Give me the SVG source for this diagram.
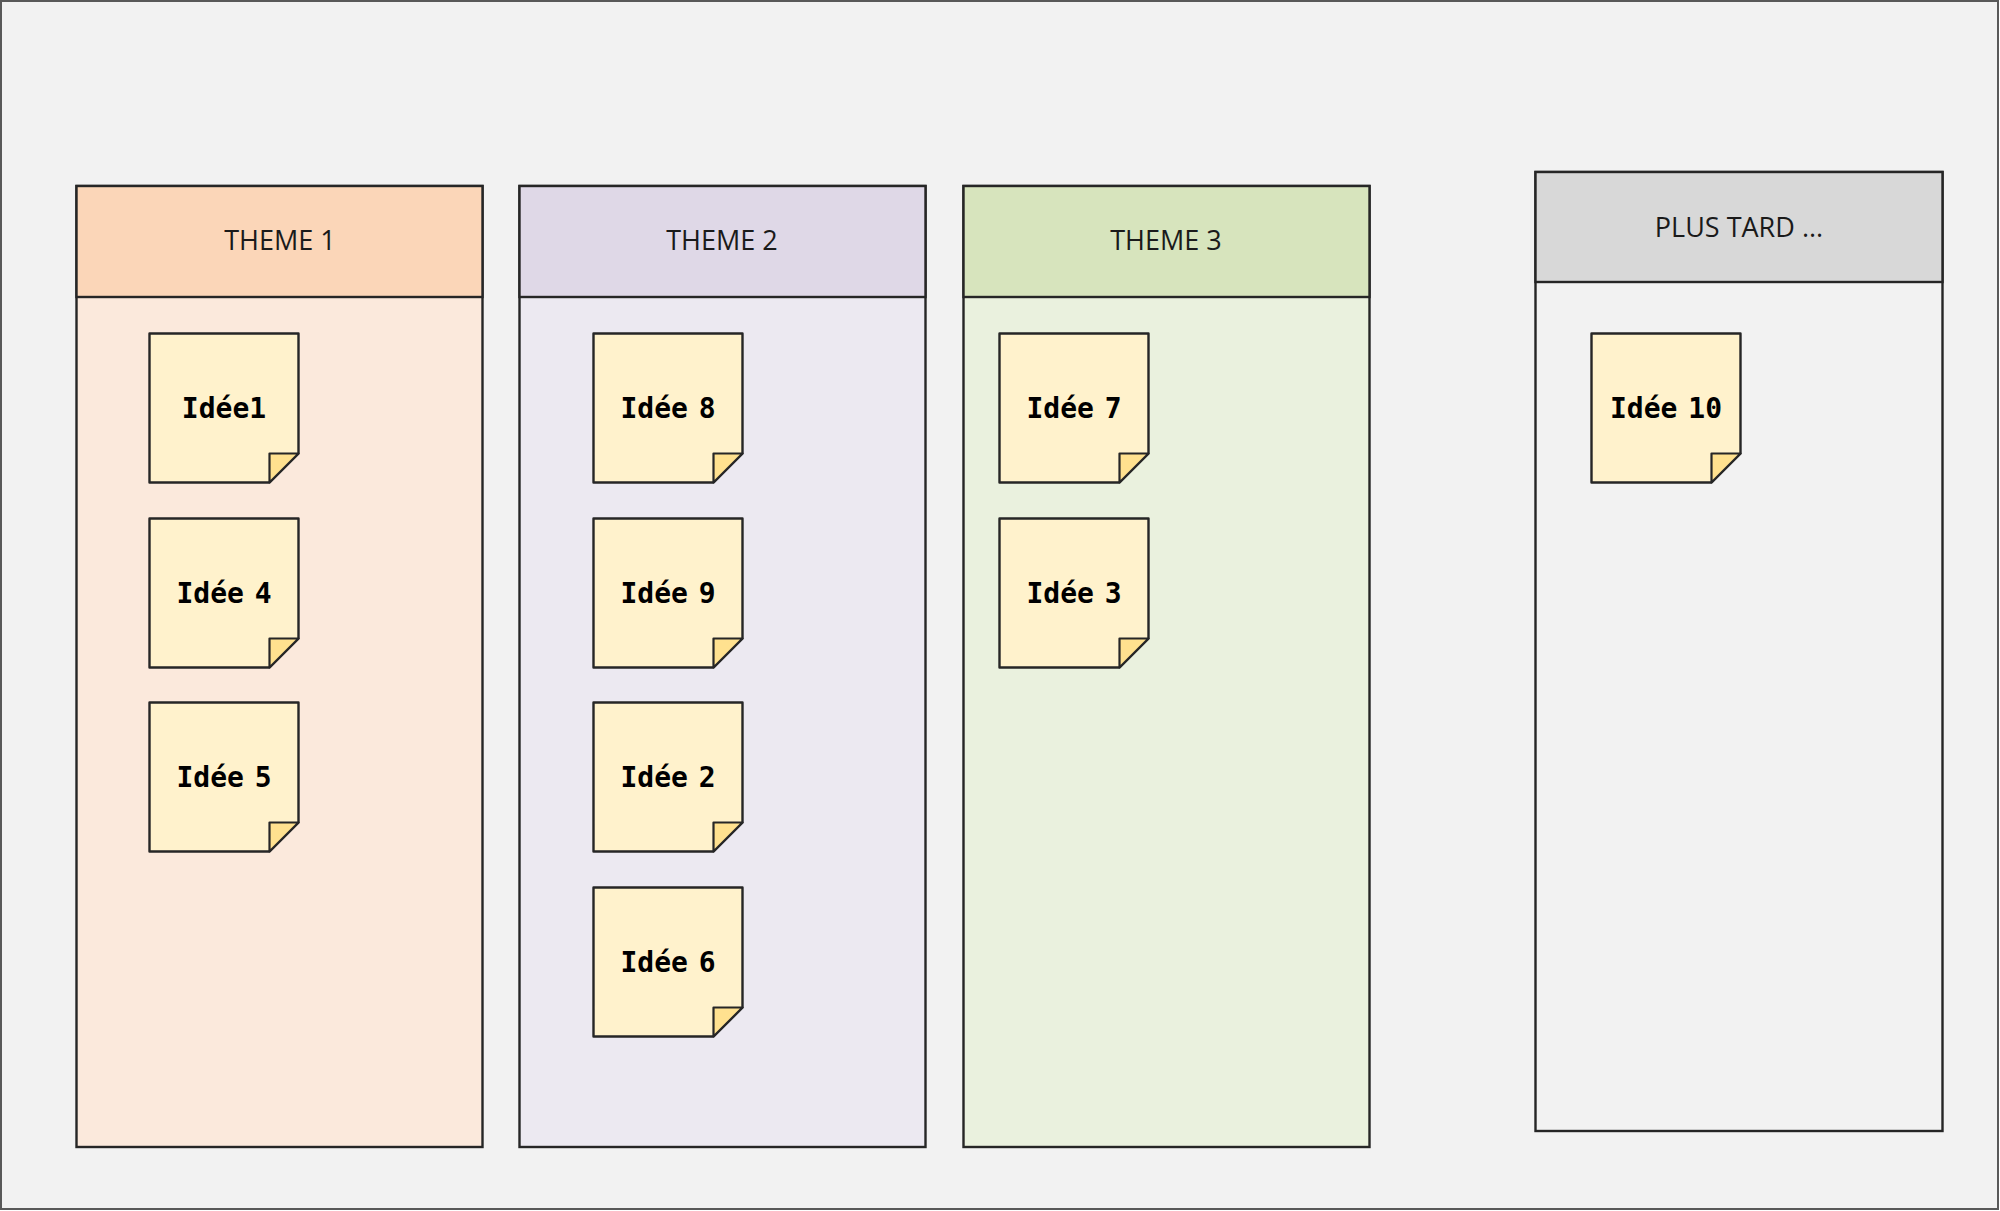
<svg xmlns="http://www.w3.org/2000/svg" width="2000" height="1211" viewBox="0 0 2000 1211">
<defs>
<style>
.frame{fill:#F2F2F2;stroke:#595959;stroke-width:2}
.col{stroke:#262626;stroke-width:2.4}
.hdr{font-family:"Open Sans","Liberation Sans",sans-serif;font-size:27px;fill:#1A1A1A;text-anchor:middle}
.note{fill:#FFF2CC;stroke:#262626;stroke-width:2.4;stroke-linejoin:round}
.fold{fill:#FFE18F;stroke:#262626;stroke-width:2.2;stroke-linejoin:round}
.nt{font-family:"DejaVu Sans Mono","Liberation Mono",monospace;font-weight:bold;font-size:28px;fill:#000;text-anchor:middle;word-spacing:-6px}
</style>
<g id="sticky">
<path class="note" d="M0 0H149V120L120 149H0Z"/>
<path class="fold" d="M149 120H120V149Z"/>
</g>
</defs>
<rect class="frame" x="1" y="1" width="1997" height="1208"/>
<g id="theme1">
<rect class="col" x="76.5" y="186" width="406" height="961" fill="#FBE9DC"/>
<rect class="col" x="76.5" y="186" width="406" height="111" fill="#FBD6B8"/>
<text class="hdr" x="280" y="250">THEME 1</text>
</g>
<g id="theme2">
<rect class="col" x="519.5" y="186" width="406" height="961" fill="#ECE9F1"/>
<rect class="col" x="519.5" y="186" width="406" height="111" fill="#DFD8E7"/>
<text class="hdr" x="722" y="250">THEME 2</text>
</g>
<g id="theme3">
<rect class="col" x="963.5" y="186" width="406" height="961" fill="#EAF1DE"/>
<rect class="col" x="963.5" y="186" width="406" height="111" fill="#D7E4BD"/>
<text class="hdr" x="1166" y="250">THEME 3</text>
</g>
<g id="plustard">
<rect class="col" x="1535.5" y="172" width="407" height="959" fill="#F2F2F2"/>
<rect class="col" x="1535.5" y="172" width="407" height="110" fill="#D8D8D8"/>
<text class="hdr" x="1739" y="237">PLUS TARD ...</text>
</g>
<g id="idee1"><use href="#sticky" x="149.5" y="333.5"/><text class="nt" x="224" y="418">Idée1</text></g>
<g id="idee4"><use href="#sticky" x="149.5" y="518.5"/><text class="nt" x="224" y="603">Idée 4</text></g>
<g id="idee5"><use href="#sticky" x="149.5" y="702.5"/><text class="nt" x="224" y="787">Idée 5</text></g>
<g id="idee8"><use href="#sticky" x="593.5" y="333.5"/><text class="nt" x="668" y="418">Idée 8</text></g>
<g id="idee9"><use href="#sticky" x="593.5" y="518.5"/><text class="nt" x="668" y="603">Idée 9</text></g>
<g id="idee2"><use href="#sticky" x="593.5" y="702.5"/><text class="nt" x="668" y="787">Idée 2</text></g>
<g id="idee6"><use href="#sticky" x="593.5" y="887.5"/><text class="nt" x="668" y="972">Idée 6</text></g>
<g id="idee7"><use href="#sticky" x="999.5" y="333.5"/><text class="nt" x="1074" y="418">Idée 7</text></g>
<g id="idee3"><use href="#sticky" x="999.5" y="518.5"/><text class="nt" x="1074" y="603">Idée 3</text></g>
<g id="idee10"><use href="#sticky" x="1591.5" y="333.5"/><text class="nt" x="1666" y="418">Idée 10</text></g>
<g id="connectors"></g>
</svg>
